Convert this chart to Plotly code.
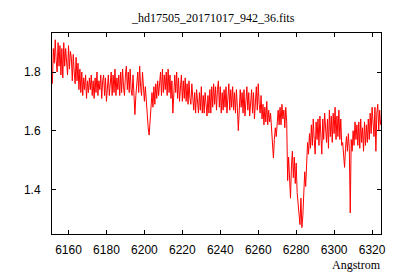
import numpy as np
import plotly.graph_objects as go

title_text = "_hd17505_20171017_942_36.fits"
x_label = "Angstrom"
wl_start = 6151.5
wl_step = 0.5

flux = [
    1.76, 1.88, 1.83, 1.91, 1.84, 1.80, 1.90, 1.82, 1.89, 1.79,
    1.88, 1.78, 1.90, 1.82, 1.88, 1.84, 1.79, 1.89, 1.81, 1.87,
    1.85, 1.77, 1.86, 1.80, 1.76, 1.85, 1.77, 1.83, 1.74, 1.81,
    1.73, 1.80, 1.72, 1.78, 1.74, 1.79, 1.71, 1.77, 1.73, 1.78,
    1.74, 1.79, 1.72, 1.77, 1.71, 1.78, 1.73, 1.80, 1.72, 1.77,
    1.74, 1.79, 1.71, 1.77, 1.79, 1.72, 1.78, 1.70, 1.76, 1.79,
    1.72, 1.78, 1.80, 1.72, 1.79, 1.73, 1.81, 1.72, 1.78, 1.74,
    1.79, 1.72, 1.80, 1.73, 1.81, 1.75, 1.72, 1.79, 1.82, 1.74,
    1.80, 1.73, 1.81, 1.74, 1.72, 1.79, 1.70, 1.655, 1.72, 1.78,
    1.80, 1.73, 1.82, 1.75, 1.72, 1.80, 1.74, 1.70, 1.75, 1.69,
    1.66, 1.61, 1.585, 1.63, 1.70, 1.73, 1.68, 1.75, 1.69, 1.76,
    1.71, 1.77, 1.72, 1.78, 1.80, 1.72, 1.81, 1.73, 1.79, 1.74,
    1.80, 1.72, 1.81, 1.73, 1.79, 1.71, 1.77, 1.66, 1.73, 1.79,
    1.73, 1.80, 1.71, 1.78, 1.70, 1.76, 1.79, 1.70, 1.77, 1.71,
    1.78, 1.70, 1.76, 1.69, 1.77, 1.71, 1.69, 1.76, 1.70, 1.67,
    1.73, 1.66, 1.74, 1.68, 1.66, 1.73, 1.67, 1.75, 1.66, 1.72,
    1.66, 1.73, 1.67, 1.65, 1.72, 1.66, 1.74, 1.66, 1.75, 1.68,
    1.76, 1.69, 1.75, 1.67, 1.74, 1.77, 1.68, 1.75, 1.66, 1.73,
    1.67, 1.74, 1.68, 1.75, 1.66, 1.73, 1.76, 1.67, 1.74, 1.68,
    1.75, 1.67, 1.73, 1.66, 1.74, 1.68, 1.60, 1.67, 1.74, 1.68,
    1.73, 1.66, 1.74, 1.65, 1.72, 1.75, 1.67, 1.73, 1.65, 1.72,
    1.74, 1.66, 1.73, 1.64, 1.72, 1.75, 1.67, 1.76, 1.69, 1.66,
    1.72, 1.64, 1.69, 1.62, 1.68, 1.63, 1.70, 1.62, 1.67, 1.63,
    1.66, 1.61, 1.55, 1.507, 1.57, 1.61, 1.58, 1.64, 1.67, 1.62,
    1.68, 1.62, 1.69, 1.64, 1.67, 1.61, 1.68, 1.63, 1.43, 1.51,
    1.40, 1.37, 1.48, 1.53, 1.44, 1.51, 1.42, 1.49, 1.39, 1.35,
    1.33, 1.28, 1.37, 1.27, 1.31, 1.41, 1.46, 1.41, 1.51, 1.56,
    1.52, 1.59, 1.54, 1.62, 1.55, 1.64, 1.57, 1.52, 1.63, 1.57,
    1.64, 1.55, 1.65, 1.58, 1.52, 1.64, 1.57, 1.66, 1.59, 1.56,
    1.64, 1.54, 1.67, 1.58, 1.65, 1.56, 1.66, 1.59, 1.68, 1.57,
    1.65, 1.58, 1.67, 1.57, 1.64, 1.55, 1.56, 1.49, 1.475, 1.54,
    1.58, 1.53, 1.59, 1.54, 1.32, 1.57, 1.53, 1.60, 1.55, 1.63,
    1.57, 1.62, 1.55, 1.63, 1.54, 1.64, 1.56, 1.61, 1.53, 1.63,
    1.55, 1.62, 1.56, 1.64, 1.57, 1.66, 1.59, 1.68, 1.61, 1.58,
    1.68, 1.53, 1.66, 1.69, 1.60, 1.67, 1.62,
]

wavelength = wl_start + wl_step * np.arange(len(flux))

x_range = [6151.3, 6324.7]
y_range = [1.248, 1.933]
x_ticks = [6160, 6180, 6200, 6220, 6240, 6260, 6280, 6300, 6320]
y_ticks = [1.4, 1.6, 1.8]

fig = go.Figure()
fig.add_trace(go.Scatter(x=wavelength, y=flux, mode="lines",
                         line=dict(color="#ff0000", width=1.0),
                         showlegend=False, hoverinfo="skip"))

axis_common = dict(showline=True, linecolor="black", linewidth=1, mirror="allticks",
                   ticks="inside", ticklen=4, tickcolor="black", tickwidth=1,
                   showgrid=False, zeroline=False, automargin=False,
                   tickfont=dict(family="Liberation Sans", size=12, color="black"))

fig.update_xaxes(range=x_range, tickvals=x_ticks, ticktext=[str(t) for t in x_ticks],
                 ticklabelstandoff=5, **axis_common)
fig.update_yaxes(range=y_range, tickvals=y_ticks, ticktext=[f"{t:.1f}" for t in y_ticks],
                 ticklabelstandoff=8, **axis_common)

# page body has an 8px margin; figure compensates so the plot box sits at 52..381 x 33..234
fig.update_layout(
    width=392, height=272,
    margin=dict(l=44, r=19, t=25, b=46),
    paper_bgcolor="white", plot_bgcolor="white",
    title=dict(text=title_text, xref="paper", x=0.49, xanchor="center",
               y=1 - 10 / 272, yanchor="middle",
               font=dict(family="Liberation Serif", size=12, color="black")),
)
fig.add_annotation(text=x_label, xref="paper", yref="paper", x=1.006, y=-31 / 201,
                   xanchor="right", yanchor="middle", showarrow=False,
                   font=dict(family="Liberation Serif", size=12, color="black"))

fig.write_html("out.html")
